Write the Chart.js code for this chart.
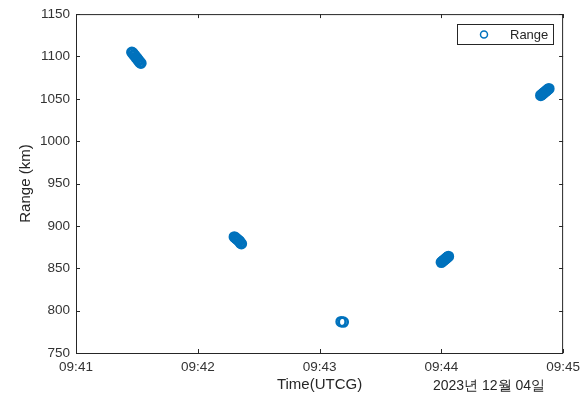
<!DOCTYPE html>
<html>
<head>
<meta charset="utf-8">
<script src="https://cdn.jsdelivr.net/npm/chart.js@4.4.0/dist/chart.umd.min.js"></script>
<style>
  html, body { margin: 0; padding: 0; background: #fff; }
</style>
</head>
<body>
<canvas id="rangeChart" width="586" height="394"></canvas>
<script>
// time in seconds after 09:41:00 (UTCG)
const timeSec = [
  27.5, 28, 28.5, 29, 29.5, 30, 30.5, 31, 31.5, 32,
  78, 78.5, 79, 79.5, 80, 80.5, 81, 81.5,
  130.6, 131.7,
  180, 180.5, 181, 181.5, 182, 182.5, 183, 183.5,
  229, 229.5, 230, 230.5, 231, 231.5, 232, 232.5, 233
];
const rangeKm = [
  1105, 1104, 1102, 1101, 1099, 1098, 1096, 1095, 1093, 1092,
  887, 886, 885, 884, 883, 882, 880, 879,
  787, 786.5,
  857, 858, 859, 860, 861, 862, 863, 864,
  1054, 1055, 1056, 1057, 1058, 1059, 1060, 1061, 1062
];
const xTickLabels = ['09:41', '09:42', '09:43', '09:44', '09:45'];
const seriesName = 'Range';
const dateLabel = '2023년 12월 04일';

const BLUE = '#0072BD';
const AXIS = '#262626';
const FONT = '"Liberation Sans", Arial, sans-serif';

const points = timeSec.map((t, i) => ({ x: t, y: rangeKm[i] }));

// box around the plot plus MATLAB style inward ticks
const boxPlugin = {
  id: 'boxPlugin',
  afterDraw(chart) {
    const ctx = chart.ctx;
    const a = chart.chartArea;
    const xs = chart.scales.x, ys = chart.scales.y;
    ctx.save();
    ctx.strokeStyle = AXIS;
    ctx.lineWidth = 1;
    ctx.strokeRect(a.left + 0.5, a.top + 0.5, a.right - a.left - 1, a.bottom - a.top);
    ctx.beginPath();
    xs.ticks.forEach(t => {
      const px = Math.round(xs.getPixelForValue(t.value)) + 0.5;
      ctx.moveTo(px, a.bottom); ctx.lineTo(px, a.bottom - 4);
      ctx.moveTo(px, a.top); ctx.lineTo(px, a.top + 4);
    });
    ys.ticks.forEach(t => {
      const py = Math.round(ys.getPixelForValue(t.value)) + 0.5;
      ctx.moveTo(a.left, py); ctx.lineTo(a.left + 4, py);
      ctx.moveTo(a.right, py); ctx.lineTo(a.right - 4, py);
    });
    ctx.stroke();

    // legend box
    ctx.fillStyle = '#fff';
    ctx.fillRect(457, 24, 96, 20);
    ctx.strokeRect(457.5, 24.5, 96, 20);
    ctx.beginPath();
    ctx.strokeStyle = BLUE;
    ctx.lineWidth = 1.5;
    ctx.arc(484, 34.5, 3.5, 0, Math.PI * 2);
    ctx.stroke();
    ctx.fillStyle = AXIS;
    ctx.font = '13px ' + FONT;
    ctx.textBaseline = 'middle';
    ctx.textAlign = 'left';
    ctx.fillText(seriesName, 510, 35);

    // date under the right part of the x axis
    ctx.textAlign = 'center';
    ctx.font = '14px ' + FONT;
    ctx.fillText(dateLabel, 489, 386);
    ctx.restore();
  }
};

new Chart(document.getElementById('rangeChart').getContext('2d'), {
  type: 'scatter',
  data: {
    datasets: [{
      label: seriesName,
      data: points,
      pointStyle: 'circle',
      pointRadius: 4.5,
      pointBorderWidth: 2.5,
      borderColor: BLUE,
      backgroundColor: 'rgba(0,0,0,0)',
      pointHoverRadius: 4.5
    }]
  },
  options: {
    responsive: false,
    animation: false,
    layout: { padding: { left: 0, right: 19, top: 13, bottom: 0 } },
    plugins: {
      legend: { display: false },
      tooltip: { enabled: false }
    },
    scales: {
      x: {
        type: 'linear',
        min: 0,
        max: 240,
        afterFit(s) { s.height = 41; },
        grid: { display: false, drawTicks: false },
        border: { display: false },
        ticks: {
          stepSize: 60,
          autoSkip: false,
          maxRotation: 0,
          padding: 6,
          color: '#333',
          font: { family: FONT, size: 13.5 },
          callback: v => xTickLabels[Math.round(v / 60)]
        },
        title: {
          display: true,
          text: 'Time(UTCG)',
          color: AXIS,
          font: { family: FONT, size: 15 },
          padding: { top: 0, bottom: 0 }
        }
      },
      y: {
        min: 750,
        max: 1150,
        afterFit(s) { s.width = 76; },
        grid: { display: false, drawTicks: false },
        border: { display: false },
        ticks: {
          stepSize: 50,
          padding: 6,
          color: '#333',
          font: { family: FONT, size: 13.5 },
          callback: v => String(v)
        },
        title: {
          display: true,
          text: 'Range (km)',
          color: AXIS,
          font: { family: FONT, size: 15 },
          padding: { top: 17, bottom: 0 }
        }
      }
    }
  },
  plugins: [boxPlugin]
});
</script>
</body>
</html>
